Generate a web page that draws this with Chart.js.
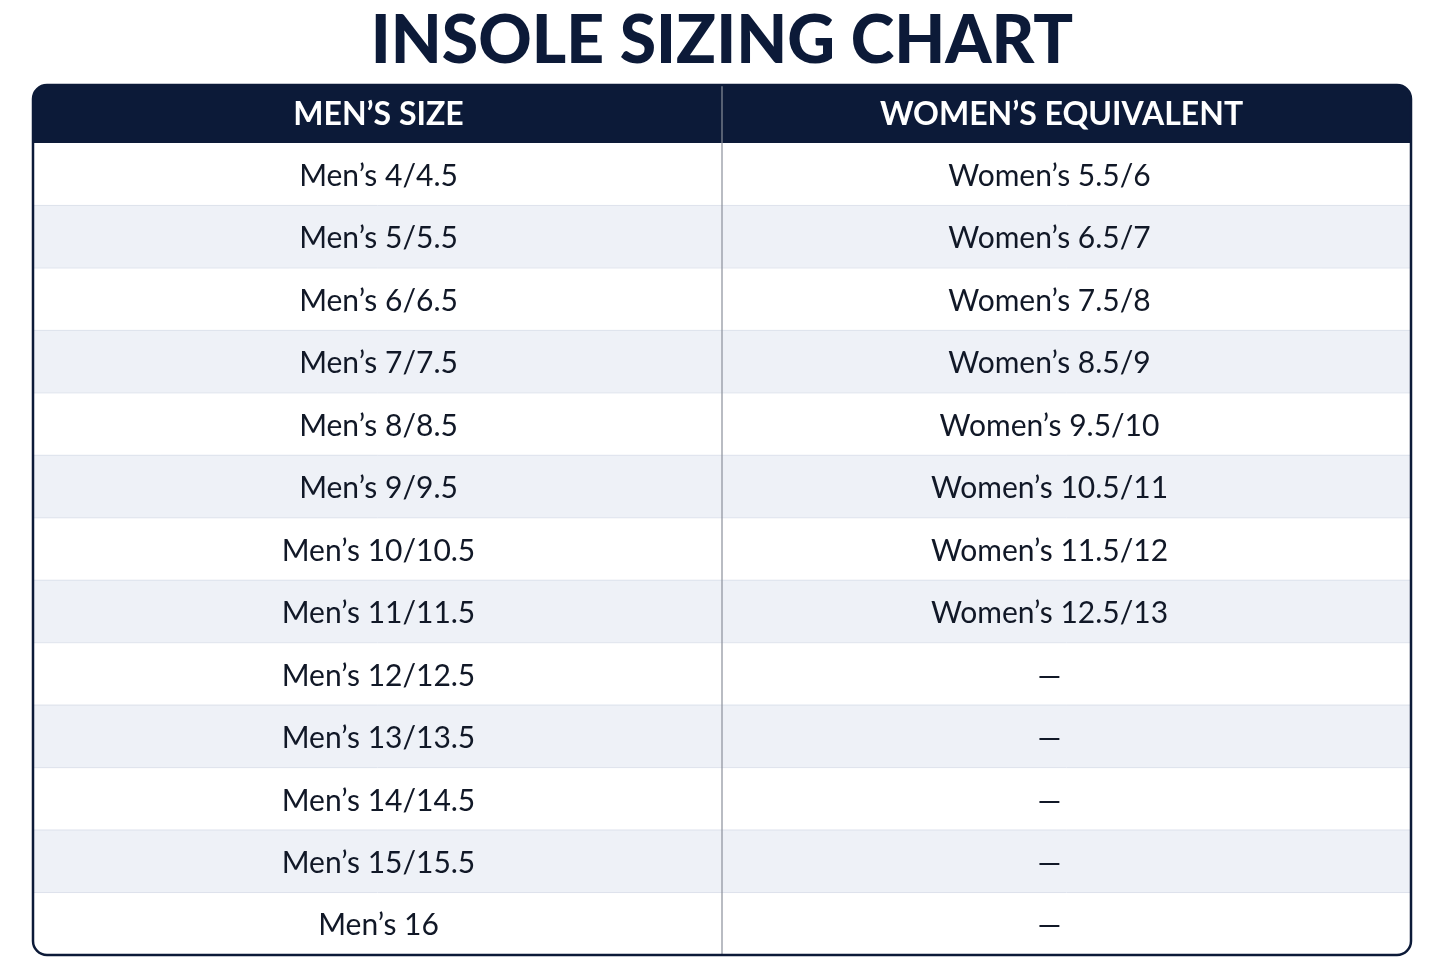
<!DOCTYPE html>
<html><head><meta charset="utf-8">
<script src="https://cdn.jsdelivr.net/npm/chart.js@4/dist/chart.umd.min.js"></script>
<style>html,body{margin:0;padding:0;background:#fff}#wrap{width:1445px;height:963px}</style>
</head><body><div id="wrap"><canvas id="c"></canvas></div>
<script>
const title = "INSOLE SIZING CHART";
const headers = ["MEN’S SIZE", "WOMEN’S EQUIVALENT"];
const mensSizes = ["Men’s 4/4.5","Men’s 5/5.5","Men’s 6/6.5","Men’s 7/7.5","Men’s 8/8.5","Men’s 9/9.5","Men’s 10/10.5","Men’s 11/11.5","Men’s 12/12.5","Men’s 13/13.5","Men’s 14/14.5","Men’s 15/15.5","Men’s 16"];
const womensEquivalent = ["Women’s 5.5/6","Women’s 6.5/7","Women’s 7.5/8","Women’s 8.5/9","Women’s 9.5/10","Women’s 10.5/11","Women’s 11.5/12","Women’s 12.5/13","—","—","—","—","—"];
const NAVY = "#0c1a38";

const tablePlugin = {
  id: "table",
  beforeDatasetsDraw(chart) {
    const {ctx, chartArea: a} = chart;
    ctx.save();
    ctx.fillStyle = NAVY;
    ctx.textAlign = "center"; ctx.textBaseline = "middle";
    ctx.font = "900 66px Lato";
    ctx.fillText(title, (a.left + a.right) / 2, 42);
    // header
    const hTop = a.top - 58, r = 14;
    ctx.beginPath();
    ctx.moveTo(a.left, a.top); ctx.lineTo(a.left, hTop + r);
    ctx.arcTo(a.left, hTop, a.left + r, hTop, r);
    ctx.lineTo(a.right - r, hTop); ctx.arcTo(a.right, hTop, a.right, hTop + r, r);
    ctx.lineTo(a.right, a.top); ctx.closePath(); ctx.fill();
    ctx.restore();
  },
  afterDatasetsDraw(chart) {
    const {ctx, chartArea: a, scales: {x, y}} = chart;
    ctx.save();
    const hTop = a.top - 58, r = 14;
    // row separators
    ctx.strokeStyle = "#dde2ec"; ctx.lineWidth = 1;
    for (let i = 0; i < mensSizes.length - 1; i++) {
      const yy = (y.getPixelForValue(i) + y.getPixelForValue(i + 1)) / 2;
      ctx.beginPath(); ctx.moveTo(a.left, yy); ctx.lineTo(a.right, yy); ctx.stroke();
    }
    // vertical divider
    const mid = x.getPixelForValue(1);
    ctx.strokeStyle = "#8a8f9a"; ctx.lineWidth = 1.2;
    ctx.beginPath(); ctx.moveTo(mid, hTop); ctx.lineTo(mid, a.bottom); ctx.stroke();
    // outer border
    ctx.strokeStyle = NAVY; ctx.lineWidth = 2.5;
    ctx.beginPath();
    ctx.moveTo(a.left + r, hTop); ctx.arcTo(a.right, hTop, a.right, a.bottom, r);
    ctx.arcTo(a.right, a.bottom, a.left, a.bottom, r);
    ctx.arcTo(a.left, a.bottom, a.left, hTop, r);
    ctx.arcTo(a.left, hTop, a.right, hTop, r); ctx.closePath(); ctx.stroke();
    // header text
    ctx.textAlign = "center"; ctx.textBaseline = "middle";
    ctx.fillStyle = "#fff"; ctx.font = "bold 32px Lato";
    ctx.fillText(headers[0], x.getPixelForValue(0.5) + 1, hTop + 30);
    ctx.fillText(headers[1], x.getPixelForValue(1.5) - 5, hTop + 30);
    // cells
    ctx.fillStyle = "#111827"; ctx.font = "30px Lato";
    mensSizes.forEach((m, i) => {
      const yy = y.getPixelForValue(i) + 2;
      ctx.fillText(m, x.getPixelForValue(0.5) + 1, yy);
      ctx.fillText(womensEquivalent[i], x.getPixelForValue(1.5) - 17, yy);
    });
    ctx.restore();
  }
};

new Chart(document.getElementById("c"), {
  type: "bar",
  data: {
    labels: mensSizes,
    datasets: [{
      data: mensSizes.map(() => [0, 2]),
      backgroundColor: mensSizes.map((_, i) => i % 2 ? "#eef1f7" : "#ffffff"),
      barPercentage: 1, categoryPercentage: 1, borderWidth: 0
    }]
  },
  options: {
    indexAxis: "y", responsive: true, maintainAspectRatio: false, animation: false,
    layout: {padding: {left: 33, right: 34, top: 143, bottom: 8}},
    scales: {
      x: {type: "linear", min: 0, max: 2, display: false},
      y: {display: false}
    },
    plugins: {legend: {display: false}, tooltip: {enabled: false}}
  },
  plugins: [tablePlugin]
});
</script></body></html>
